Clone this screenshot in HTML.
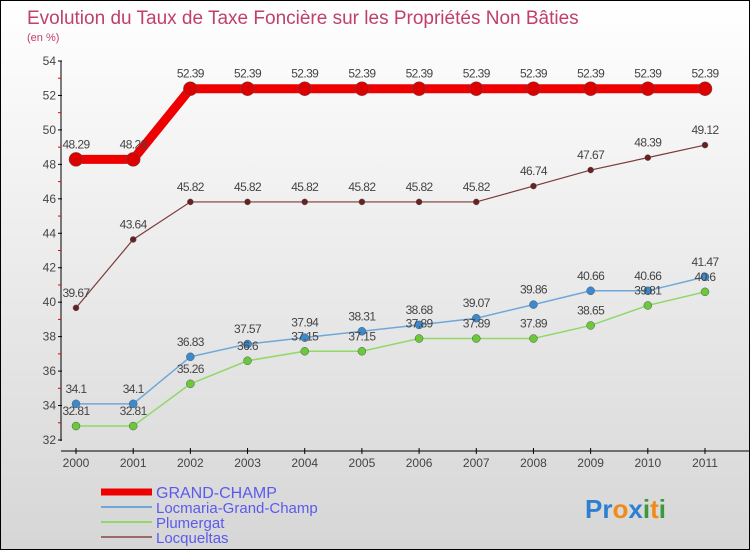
<!DOCTYPE html>
<html><head><meta charset="utf-8"><style>
body{margin:0;}
#c{position:relative;width:750px;height:550px;box-sizing:border-box;border:1px solid #000;background:linear-gradient(#ffffff,#d6d6d6);font-family:"Liberation Sans",sans-serif;overflow:hidden}
</style></head><body>
<div id="c">
<svg id="s" width="748" height="548" style="position:absolute;left:0;top:0">
<text x="26" y="23" font-size="19" fill="#c0406a">Evolution du Taux de Taxe Foncière sur les Propriétés Non Bâties</text>
<text x="26" y="40" font-size="11" fill="#c0406a">(en %)</text>
<g id="axes"></g><g id="series"></g><g id="legend"></g>
<g font-size="26" font-weight="bold">
<text x="584" y="517"><tspan fill="#2f7fd0">Pr</tspan><tspan fill="#f08a1a">o</tspan><tspan fill="#2f7fd0">x</tspan><tspan fill="#3a9a3a">i</tspan><tspan fill="#f08a1a">t</tspan><tspan fill="#3a9a3a">i</tspan></text>
</g>
</svg>
</div>
<script>
const years=["2000","2001","2002","2003","2004","2005","2006","2007","2008","2009","2010","2011"];
const yTicks=[32,34,36,38,40,42,44,46,48,50,52,54];
const grandChamp=[48.29,48.29,52.39,52.39,52.39,52.39,52.39,52.39,52.39,52.39,52.39,52.39];
const locmaria=[34.1,34.1,36.83,37.57,37.94,38.31,38.68,39.07,39.86,40.66,40.66,41.47];
const plumergat=[32.81,32.81,35.26,36.6,37.15,37.15,37.89,37.89,37.89,38.65,39.81,40.6];
const locqueltas=[39.67,43.64,45.82,45.82,45.82,45.82,45.82,45.82,46.74,47.67,48.39,49.12];
const seriesNames=["GRAND-CHAMP","Locmaria-Grand-Champ","Plumergat","Locqueltas"];
const NS="http://www.w3.org/2000/svg";
function X(i){return 75+i*(704-75)/(years.length-1);}
function Y(v){return 439-(v-32)*(439-60)/22;}
function mk(p,t,a){const e=document.createElementNS(NS,t);for(const k in a)e.setAttribute(k,a[k]);p.appendChild(e);return e;}
const ax=document.getElementById('axes');
mk(ax,'line',{x1:60,y1:60,x2:60,y2:440,stroke:'#000','stroke-width':1});
mk(ax,'line',{x1:60,y1:450,x2:748,y2:450,stroke:'#000','stroke-width':1});
yTicks.forEach(v=>{
 mk(ax,'line',{x1:57,y1:Y(v),x2:61,y2:Y(v),stroke:'#000'});
 if(v<54)mk(ax,'line',{x1:57,y1:Y(v+1),x2:60,y2:Y(v+1),stroke:'#e00'});
 const t=mk(ax,'text',{x:55,y:Y(v)+4,'font-size':12,fill:'#444','text-anchor':'end'});t.textContent=v;
 
 
});
years.forEach((y,i)=>{
 mk(ax,'line',{x1:X(i),y1:447,x2:X(i),y2:453,stroke:'#000'});
 const t=mk(ax,'text',{x:X(i),y:466,'font-size':12,fill:'#444','text-anchor':'middle'});t.textContent=y;
 
 
});
const defs=[[grandChamp,'#ee0000',9,7,'#dd0000'],[locmaria,'#6fa8d8',1.5,4,'#3a8ad0'],[plumergat,'#8fd86a',1.5,4,'#6ac83a'],[locqueltas,'#7a3a3a',1.2,3,'#6a2020']];
const sg=document.getElementById('series');
defs.forEach((d,si)=>{
 const g=mk(sg,'g',{});
 
 
 mk(g,'polyline',{points:d[0].map((v,i)=>X(i)+','+Y(v)).join(' '),fill:'none',stroke:d[1],'stroke-width':d[2]});
 d[0].forEach((v,i)=>{
  const c=mk(g,'circle',{cx:X(i),cy:Y(v),r:d[3],fill:d[4],stroke:'#555','stroke-width':0.5});
  
  
  const t=mk(g,'text',{x:X(i),y:Y(v)-11,'font-size':12,fill:'#444','text-anchor':'middle','letter-spacing':'-0.6'});t.textContent=v;
  
  
 });
});
const lg=document.getElementById('legend');
defs.forEach((d,i)=>{
 const y=491+i*15;
 const g=mk(lg,'g',{});
 
 
 mk(g,'line',{x1:100,y1:y,x2:151,y2:y,stroke:i==3?'#9a6a6a':d[1],'stroke-width':i==0?7:2});
 const t=mk(g,'text',{x:155,y:y+6,'font-size':i==0?16:15,fill:'#5a5aee'});t.textContent=seriesNames[i];
});
</script>
</body></html>
